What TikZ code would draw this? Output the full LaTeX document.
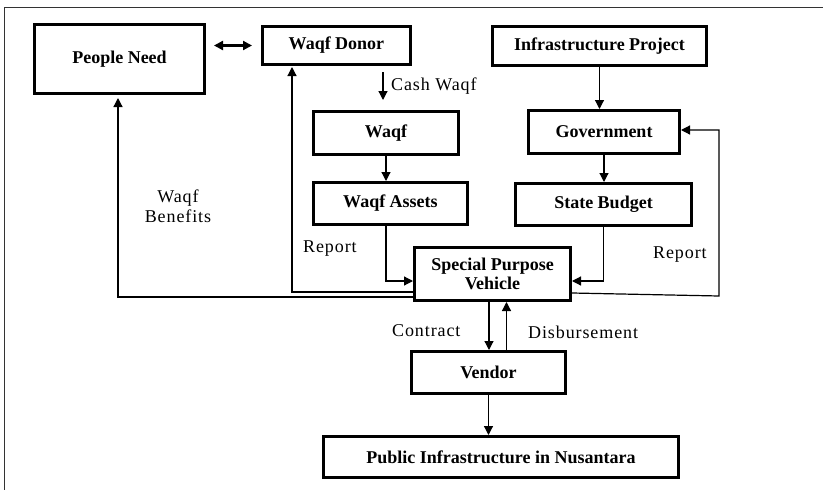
\documentclass[tikz,border=0pt]{standalone}
\usepackage{fontspec}
\setmainfont{Liberation Serif}
\newfontfamily\labfont{Liberation Serif}[LetterSpace=5]
\usetikzlibrary{arrows.meta,calc}
\begin{document}
\begin{tikzpicture}[x=1pt,y=-1pt,
  box/.style={draw,line width=3pt,rectangle,inner sep=0pt,align=center,
    font=\bfseries\fontsize{18}{19}\selectfont},
  conn/.style={line width=1.2pt,-{Triangle[length=9pt,width=9pt]}},
  lab/.style={inner sep=0pt,anchor=west,font=\labfont\fontsize{18}{19.5}\selectfont,align=center}]
\useasboundingbox (0,0) rectangle (823,490);
% frame
\draw[line width=1.4pt,black!80] (4.5,490) -- (4.5,7.5) -- (823,7.5);
% boxes
\node[box,minimum width=170pt,minimum height=69pt] (pn) at (119.5,59) {People Need};
\node[box,minimum width=148pt,minimum height=38pt] (wd) at (336.5,45.5) {Waqf Donor};
\node[box,minimum width=214pt,minimum height=39pt] (ip) at (599.5,46) {Infrastructure Project};
\node[box,minimum width=145pt,minimum height=43pt] (wq) at (386,133) {Waqf};
\node[box,minimum width=151pt,minimum height=43pt] (gov) at (604,132) {Government};
\node[box,minimum width=154pt,minimum height=42pt] (wa) at (390.5,203.5) {Waqf Assets};
\node[box,minimum width=176pt,minimum height=42pt] (sb) at (603.5,204.5) {State Budget};
\node[box,minimum width=156pt,minimum height=53pt] (spv) at (492.5,274) {Special Purpose\\Vehicle};
\node[box,minimum width=154pt,minimum height=42pt] (ven) at (488.5,372.5) {Vendor};
\node[box,minimum width=355pt,minimum height=41pt] (pub) at (501,457) {Public Infrastructure in Nusantara};
% connectors
\draw[line width=2.2pt,{Triangle[length=9pt,width=9pt]}-{Triangle[length=9pt,width=9pt]},shorten <=8pt,shorten >=9pt]
  (pn.east |- wd.west) -- (wd.west);
\draw[conn,shorten <=6pt,shorten >=10pt] ($(wd.south -| wq.north)+(-3,0)$) -- ($(wq.north)+(-3,0)$);
\draw[conn] (wq.south) -- (wq.south |- wa.north);
\draw[conn] (ip.south) -- (ip.south |- gov.north);
\draw[conn] (gov.south) -- (gov.south |- sb.north);
\draw[conn] ($(wa.south)+(-4.5,0)$) |- ($(spv.west)+(0,7)$);
\draw[conn] (sb.south) |- ($(spv.east)+(0,7)$);
\draw[conn] ($(spv.west)+(0,23)$) -| ($(pn.south)+(-1.5,3)$);
\draw[conn] ($(spv.west)+(0,18)$) -| ($(wd.south)+(-44.5,1)$);
\draw[conn] ($(spv.east)+(0,19)$) -- (719,296) -- (719,130) -- (gov.east |- 0,130);
\draw[conn] ($(spv.south)+(-3.5,0)$) -- ($(spv.south |- ven.north)+(-3.5,0)$);
\draw[conn] ($(ven.north)+(18,0)$) -- ($(ven.north |- spv.south)+(18,0)$);
\draw[conn] (ven.south) -- (ven.south |- pub.north);
% labels
\node[lab] (lcash) at (391,86) {Cash Waqf};
\node[lab,anchor=center] (lben) at (178,206) {Waqf\\Benefits};
\node[lab] (lrep1) at (303,249) {Report};
\node[lab] (lrep2) at (653,255) {Report};
\node[lab] (lcon) at (392,331) {Contract};
\node[lab] (ldis) at (528,332) {Disbursement};
\end{tikzpicture}
\end{document}
